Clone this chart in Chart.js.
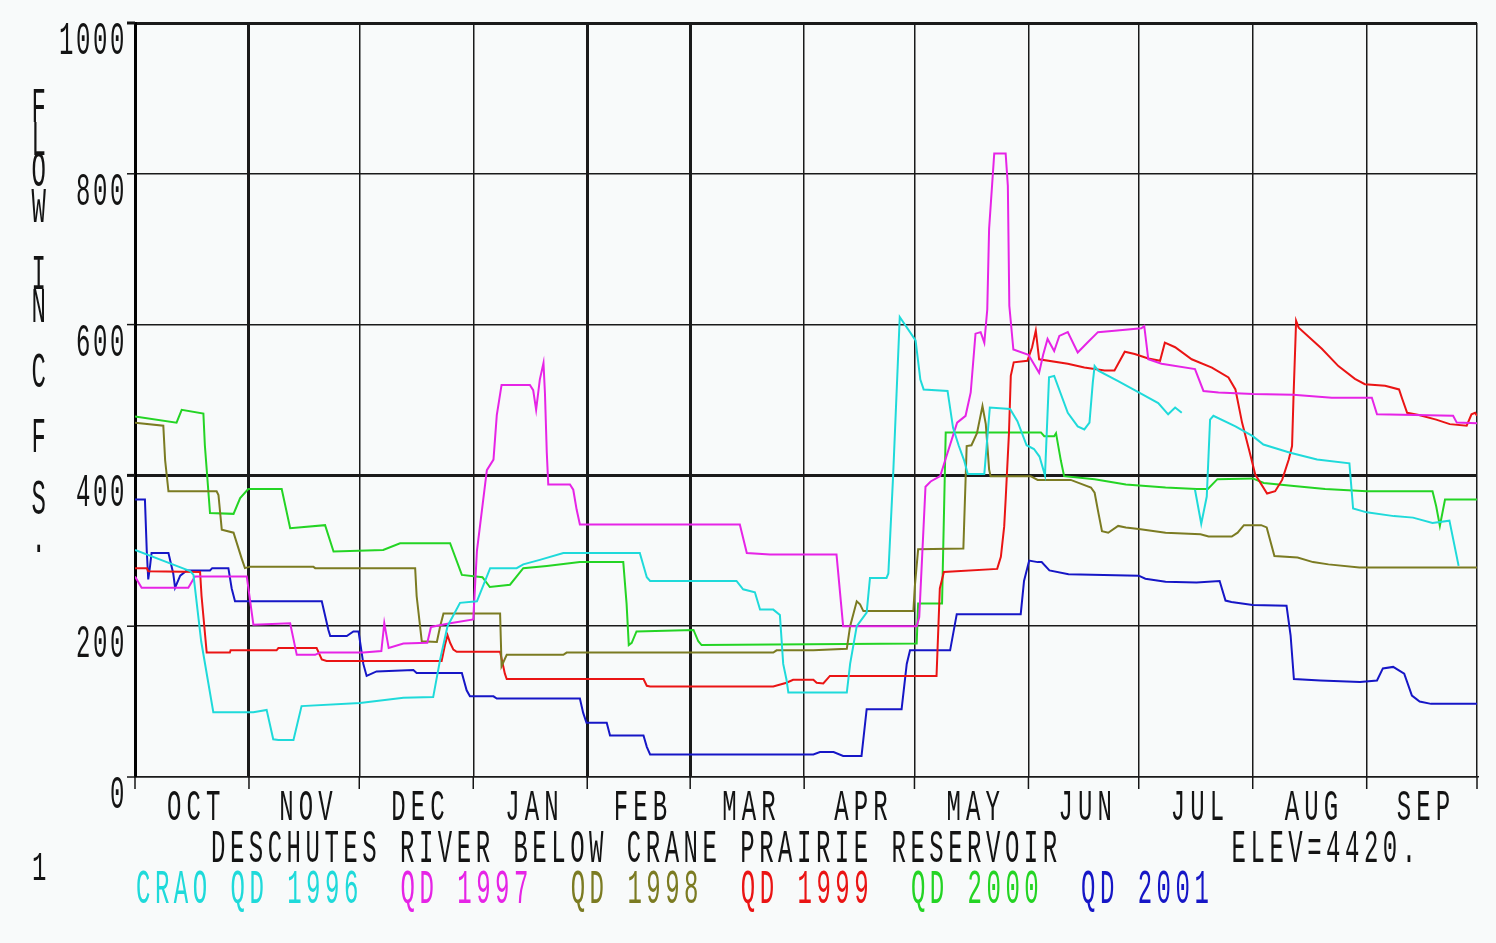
<!DOCTYPE html>
<html>
<head>
<meta charset="utf-8">
<title>Deschutes River below Crane Prairie Reservoir</title>
<script src="https://cdn.jsdelivr.net/npm/chart.js@4/dist/chart.umd.min.js"></script>
<style>
  html, body { margin: 0; padding: 0; background: #f8fafa; overflow: hidden; }
  canvas { display: block; }
</style>
</head>
<body>
<canvas id="flowChart" width="1496" height="943"></canvas>
<script>
// Water-year axis: day 0 = Oct 1, month boundaries in days
const monthLabels = ['OCT', 'NOV', 'DEC', 'JAN', 'FEB', 'MAR', 'APR', 'MAY', 'JUN', 'JUL', 'AUG', 'SEP'];
const monthStartDays = [0, 31, 61, 92, 123, 151, 182, 212, 243, 273, 304, 335, 365];
const heavyMonthDays = [0, 31, 123, 151];
const flowTicks = [0, 200, 400, 600, 800, 1000];
const heavyFlows = [400, 1000];

const stationTitle = 'DESCHUTES RIVER BELOW CRANE PRAIRIE RESERVOIR';
const elevationNote = 'ELEV=4420.';
const axisTitleLetters = ['F', 'L', 'O', 'W', 'I', 'N', 'C', 'F', 'S', '.'];
const pageNumber = '1';

const seriesNames = ['CRAO QD 1996', 'QD 1997', 'QD 1998', 'QD 1999', 'QD 2000', 'QD 2001'];
const seriesColors = ['#1fdada', '#e624e6', '#7b7b22', '#ea1414', '#24d424', '#1616c6'];

// Daily discharge, cfs: [day of water year, flow]
const qd1996 = [[0,301],[11.3,280],[15,273],[15.9,268],[18,180],[21.3,86],[32.2,86],[35.8,89],[37.6,50],[39,49],[43.1,49],[45.3,94],[61.2,98],[73,105],[81.1,106],[83,156],[85,200],[88.4,231],[93,233],[96.6,277],[103.8,277],[105.6,282],[110.1,288],[116.5,297],[137.3,297],[139.2,265],[140.1,260],[163.6,260],[165.4,249],[168.6,245],[170,222],[173.6,222],[175.4,215],[176.3,150],[177.2,129],[177.7,112],[193.6,112],[194.5,150],[196.3,200],[199,218],[199.9,264],[204.4,264],[204.9,270],[206.2,400],[208,610],[212.3,579],[213.6,527],[214.5,514],[221,512],[222.5,463],[224,440],[225.5,420],[226.5,402],[231,402],[232.5,490],[238,488],[240,472],[242.5,440],[244.5,435],[246,425],[247.5,400],[248.6,530],[250,532],[253.7,483],[256.4,465],[258.2,461],[259.6,470],[260.5,523],[261,545],[262,539],[267.4,525],[273,510],[278.3,496],[281,481],[282.9,490],[284.7,483],[286.5,null],[288.3,381],[290,336],[291.5,372],[292.4,474],[293.3,479],[299.3,465],[304,452],[306.9,441],[314.2,430],[321.5,421],[330.3,416],[331.3,356],[335,351],[342.4,346],[347.6,344],[352.9,337],[357.5,340],[360,280]];

const qd1997 = [[0,266],[1.8,251],[14.5,251],[16.3,266],[30.4,266],[32.2,202],[42.2,204],[44,162],[49,162],[50.3,165],[62.1,165],[67,167],[67.8,204],[69,171],[73,177],[79.5,178],[80.5,199],[85.7,204],[92,209],[93,300],[95.7,407],[97.5,421],[98.4,480],[99.7,520],[107.4,520],[108.3,513],[109.1,487],[110.1,527],[111.1,549],[111.5,509],[112,430],[112.4,388],[118.3,388],[119.2,381],[120.1,355],[121,335],[164.5,335],[166.4,297],[172.7,295],[190.8,295],[192.6,200],[212.6,200],[213.3,212],[215,385],[216.4,392],[219,399],[221,430],[223.6,470],[225.9,479],[227.3,510],[228.6,588],[230,590],[231,576],[231.8,620],[232.3,727],[233.7,827],[236.8,827],[237.4,784],[237.8,625],[238.9,567],[243,560],[245.9,536],[247,560],[248.2,581],[250,565],[251.4,585],[253.7,590],[256.4,563],[259,576],[261.9,590],[266.4,592],[273.7,595],[274.5,598],[275.6,554],[279.2,548],[288.3,541],[290.6,512],[294.7,510],[304.1,508],[315,507],[325.5,503],[336.4,503],[337.8,481],[358.5,479],[359.5,470],[365,469]];

const qd1998 = [[0,470],[7.7,466],[8.2,420],[9.1,379],[22.2,379],[22.7,374],[23.6,328],[26.8,324],[29,290],[29.9,277],[31.3,279],[48.5,279],[49,277],[76.2,277],[76.6,240],[78,180],[82.1,179],[83,200],[83.9,217],[99.3,217],[99.7,147],[101.1,162],[116.5,162],[117.4,165],[173.6,165],[174.5,168],[184.5,168],[193.6,170],[194.5,200],[196.3,233],[197.2,229],[198.1,220],[211.7,220],[212.1,253],[213,302],[225.3,303],[226.2,439],[227.5,440],[229,456],[230.5,492],[231.4,468],[232.3,408],[232.7,399],[243.6,399],[245.5,394],[254.5,394],[260,384],[261,377],[262,351],[263,326],[264.7,324],[267.4,333],[269.5,331],[273,329],[280.3,324],[289.8,322],[292,319],[298.3,319],[299.9,324],[301.6,334],[306.3,334],[307.8,331],[309.9,293],[316.2,291],[320.4,285],[324.6,282],[333,278],[365,278]];

const qd1999 = [[0,277],[3.2,277],[3.6,273],[17.7,272],[18.1,240],[19.5,165],[25.8,165],[26,168],[38.5,168],[39,171],[49.4,171],[50.8,156],[52.1,154],[83.4,154],[84.3,175],[85,188],[85.7,178],[86.6,169],[87.5,166],[99.3,166],[100.6,137],[101.1,130],[138.3,130],[139.2,121],[140.1,120],[173.6,120],[177.2,125],[179,129],[184.5,129],[185.4,125],[187.2,124],[189,134],[218,134],[218.9,250],[220,272],[234.5,276],[235.5,292],[236.4,332],[236.8,368],[237.7,456],[238.2,532],[239,550],[242.7,552],[244,570],[245,592],[245.9,554],[253.7,548],[258.2,543],[263.7,539],[266.4,539],[269.2,564],[271.9,561],[275.6,555],[278.8,552],[280.1,576],[282.9,570],[287.4,554],[292.9,543],[297.4,530],[299.3,514],[301.1,470],[303,434],[304.7,401],[307.9,376],[310.1,379],[312,394],[313.8,421],[314.7,439],[315.1,505],[315.6,576],[315.8,605],[316.5,596],[322.8,568],[327.3,545],[331.8,528],[334.5,521],[340,519],[343.8,514],[344.7,501],[346,483],[349.2,480],[353.9,474],[357.6,468],[362.2,466],[363.5,481],[364.5,483],[365,479]];

const qd2000 = [[0,478],[11.3,470],[12.7,487],[18.6,482],[19,440],[20.4,350],[26.8,349],[28.6,370],[30.8,382],[39.9,382],[42.2,330],[51.7,334],[54,299],[67.5,301],[72.1,310],[85.7,310],[88.9,268],[94.5,265],[96.5,252],[102,255],[105.6,277],[112,280],[121,285],[132.8,285],[133.7,230],[134.3,175],[135.1,178],[136.4,193],[151.9,195],[153.2,180],[154.1,175],[212.6,177],[213,230],[219.5,230],[220.5,457],[246.4,457],[247.3,452],[250,452],[250.5,456],[251.8,420],[252.7,399],[261,395],[269.5,388],[280.3,384],[288.7,382],[291.8,382],[294.4,395],[304,396],[307,390],[315.2,386],[323.7,382],[335,379],[352.9,379],[353.9,359],[354.9,333],[356.3,368],[365,368]];

const qd2001 = [[0,368],[2.7,368],[3.2,300],[3.6,262],[4.1,280],[4.5,297],[9.1,297],[10.4,270],[10.9,251],[12.3,267],[14.1,274],[20.4,274],[21,277],[25.4,277],[26.3,250],[27.2,233],[50.8,233],[52.6,195],[53.1,187],[57.6,187],[59.4,193],[60.8,193],[62.1,150],[63,134],[65.7,140],[75.7,142],[76.6,138],[88.9,138],[90.2,115],[91.1,107],[97.5,107],[98.4,104],[121,104],[121.9,85],[122.8,72],[128.3,72],[129.2,55],[138.3,55],[139.2,40],[140.1,30],[184.5,30],[186.3,33],[190,33],[192.6,28],[197.6,28],[199,90],[208.5,90],[209.9,150],[210.8,168],[221.7,168],[223.5,216],[240.9,216],[241.8,260],[243.2,287],[245.5,285],[246.6,285],[248.7,274],[253.9,269],[273,267],[274.8,263],[280.3,259],[288.7,258],[295,260],[296.6,234],[298.2,232],[304,228],[313.2,227],[314.3,188],[315.2,130],[322.4,128],[333.2,126],[337.8,128],[339.4,144],[342.2,146],[345.2,137],[347.3,108],[349.4,100],[352.5,97],[365,97]];

const seriesData = [qd1996, qd1997, qd1998, qd1999, qd2000, qd2001];

// Plotter-style lettering: monospaced, tall and narrow
const MONO = '"Liberation Mono", "DejaVu Sans Mono", monospace';
const GLYPH_W = 13;

function plotText(ctx, text, left, baseline, pitch, capHeight, color) {
  ctx.save();
  ctx.font = '24px ' + MONO;
  ctx.fillStyle = color;
  ctx.textAlign = 'left';
  ctx.textBaseline = 'alphabetic';
  const cap = ctx.measureText('H').actualBoundingBoxAscent || 16;
  const adv = ctx.measureText('0').width;
  ctx.translate(left, baseline);
  ctx.scale(1, capHeight / cap);
  if ('letterSpacing' in ctx) {
    ctx.letterSpacing = (pitch - adv).toFixed(2) + 'px';
    ctx.fillText(text, 0, 0);
  } else {
    for (let i = 0; i < text.length; i++) ctx.fillText(text[i], i * pitch, 0);
  }
  ctx.restore();
}

function textSpan(text, pitch) {
  return (text.length - 1) * pitch + GLYPH_W;
}

const plotDecorations = {
  id: 'plotDecorations',
  beforeDraw(chart) {
    const ctx = chart.ctx;
    ctx.save();
    ctx.fillStyle = '#f8fafa';
    ctx.fillRect(0, 0, chart.width, chart.height);
    ctx.restore();
  },
  afterDraw(chart) {
    const ctx = chart.ctx;
    const x = chart.scales.x;
    const y = chart.scales.y;
    const ink = '#141414';

    // tick marks outside the frame
    ctx.save();
    ctx.strokeStyle = ink;
    monthStartDays.forEach(d => {
      const px = x.getPixelForValue(d);
      ctx.lineWidth = 1.5;
      ctx.beginPath();
      ctx.moveTo(px, y.bottom);
      ctx.lineTo(px, y.bottom + 12);
      ctx.stroke();
    });
    flowTicks.forEach(v => {
      const py = y.getPixelForValue(v);
      ctx.lineWidth = heavyFlows.includes(v) ? 3 : 1.5;
      ctx.beginPath();
      ctx.moveTo(x.left - 8, py);
      ctx.lineTo(x.left, py);
      ctx.stroke();
    });
    ctx.restore();

    // flow tick labels, hanging below their grid lines
    flowTicks.forEach(v => {
      const t = String(v);
      const py = y.getPixelForValue(v);
      plotText(ctx, t, 123 - textSpan(t, 17), py + 31, 17, 31, ink);
    });

    // month labels centred in each month
    monthLabels.forEach((m, i) => {
      const cx = (x.getPixelForValue(monthStartDays[i]) + x.getPixelForValue(monthStartDays[i + 1])) / 2;
      plotText(ctx, m, cx - textSpan(m, 19.5) / 2 + 1, 820, 19.5, 30, ink);
    });

    // station title and elevation
    const pitch = 18.9;
    plotText(ctx, stationTitle, 211, 862, pitch, 31, ink);
    plotText(ctx, elevationNote, 211 + 54 * pitch, 862, pitch, 31, ink);

    // series key, one line in the series colours
    let left = 136;
    seriesNames.forEach((name, i) => {
      plotText(ctx, name, left, 903, pitch, 32, seriesColors[i]);
      left += (name.length + 2) * pitch;
    });

    // stacked vertical axis title
    const letterBaselines = [122, 155, 186, 222, 289, 322, 387, 452, 514, 552];
    axisTitleLetters.forEach((ch, i) => {
      plotText(ctx, ch, 38 - GLYPH_W / 2, letterBaselines[i], 19, 33, ink);
    });

    // page number
    plotText(ctx, pageNumber, 32, 880, 19, 27, ink);
  }
};

new Chart(document.getElementById('flowChart'), {
  type: 'line',
  data: {
    datasets: seriesData.map((pts, i) => ({
      label: seriesNames[i],
      data: pts.map(([d, f]) => ({ x: d, y: f })),
      borderColor: seriesColors[i],
      borderWidth: 2,
      pointRadius: 0,
      tension: 0,
      spanGaps: false,
      fill: false
    }))
  },
  options: {
    responsive: false,
    animation: false,
    devicePixelRatio: 1,
    events: [],
    layout: { padding: { left: 135, top: 23, right: 19, bottom: 166 } },
    plugins: { legend: { display: false }, tooltip: { enabled: false } },
    scales: {
      x: {
        type: 'linear',
        min: 0,
        max: 365,
        afterBuildTicks: s => { s.ticks = monthStartDays.map(v => ({ value: v })); },
        ticks: { display: false },
        grid: {
          color: '#1a1a1a',
          lineWidth: c => (c.tick && heavyMonthDays.includes(c.tick.value)) ? 3 : 1.5,
          drawTicks: false
        },
        border: { display: true, color: '#1a1a1a', width: 1.5 }
      },
      y: {
        type: 'linear',
        min: 0,
        max: 1000,
        afterBuildTicks: s => { s.ticks = flowTicks.map(v => ({ value: v })); },
        ticks: { display: false },
        grid: {
          color: '#1a1a1a',
          lineWidth: c => (c.tick && heavyFlows.includes(c.tick.value)) ? 3 : 1.5,
          drawTicks: false
        },
        border: { display: true, color: '#000', width: 3 }
      }
    }
  },
  plugins: [plotDecorations]
});
</script>
</body>
</html>
